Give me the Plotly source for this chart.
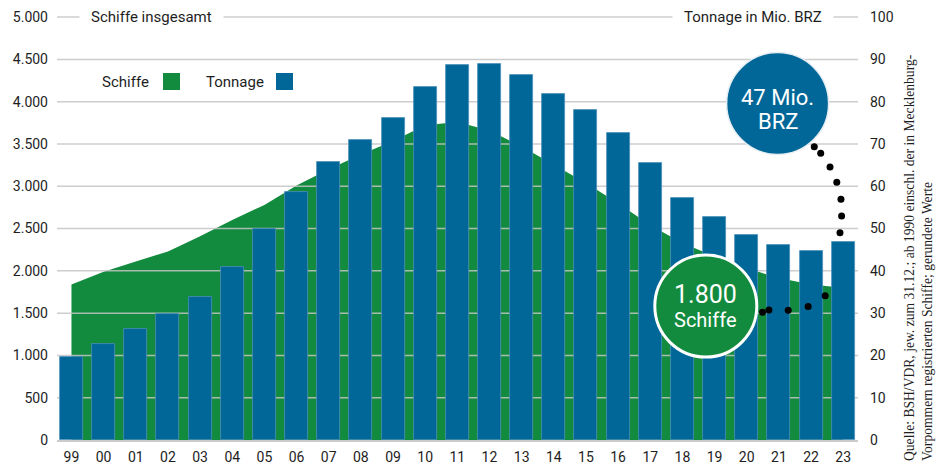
import plotly.graph_objects as go

# ---------------- data ----------------
YEARS = ["99", "00", "01", "02", "03", "04", "05", "06", "07", "08", "09", "10", "11",
         "12", "13", "14", "15", "16", "17", "18", "19", "20", "21", "22", "23"]
SHIPS = [1840, 1990, 2110, 2230, 2410, 2600, 2780, 3010, 3200, 3375, 3535, 3720, 3760,
         3660, 3470, 3250, 3040, 2800, 2540, 2330, 2170, 2030, 1915, 1840, 1800]
TONNAGE = [19.7, 22.8, 26.3, 29.7, 33.8, 40.8, 49.8, 58.6, 65.8, 70.9, 76.2, 83.5, 88.6,
           89.0, 86.2, 81.8, 78.0, 72.6, 65.4, 57.3, 52.7, 48.5, 46.0, 44.7, 46.8]
Y_TICKS = [0, 500, 1000, 1500, 2000, 2500, 3000, 3500, 4000, 4500, 5000]
Y_LABELS = ["0", "500", "1.000", "1.500", "2.000", "2.500", "3.000", "3.500", "4.000", "4.500", "5.000"]
Y2_TICKS = [0, 10, 20, 30, 40, 50, 60, 70, 80, 90, 100]
# decorative dotted connectors (x in category units, y in Mio. BRZ units)
DOTS_LOW_X = [21.49, 21.69, 22.29, 22.91, 23.44]
DOTS_LOW_Y = [30.20, 30.74, 30.67, 31.57, 34.10]
DOTS_UP_X = [23.10, 23.30, 23.59, 23.80, 23.93, 23.95, 23.90]
DOTS_UP_Y = [69.35, 67.79, 64.55, 60.94, 56.92, 52.97, 49.02]

SOURCE = ("Quelle: BSH/VDR, jew. zum 31.12.; ab 1990 einschl. der in Mecklenburg-<br>"
          "Vorpommern registrierten Schiffe; gerundete Werte")

# ---------------- style ----------------
GREEN = "#128B3E"
BLUE = "#006798"
GRID = "rgba(196,196,196,0.85)"
TXT = "#1e1e1e"
FONT = "Roboto"

W, H = 942, 465
ML, MR, MT, MB = 57, 84, 15, 25
PW, PH = W - ML - MR, H - MT - MB
X_RANGE = [-0.45, 24.46]
X = list(range(len(YEARS)))


def px(xp):
    return (xp - ML) / PW


def py(yp):
    return (H - MB - yp) / PH


fig = go.Figure()

# area of ships (main subplot, below the bars)
fig.add_trace(go.Scatter(x=X, y=SHIPS, mode="lines", fill="tozeroy", fillcolor=GREEN,
                         line=dict(color=GREEN, width=0), xaxis="x", yaxis="y",
                         hoverinfo="skip"))
# gridlines drawn over the area but under the bars
for v in Y_TICKS[1:]:
    fig.add_trace(go.Scatter(x=X_RANGE, y=[v, v], mode="lines",
                             line=dict(color=GRID, width=1.5), xaxis="x", yaxis="y",
                             hoverinfo="skip"))

# tonnage bars on overlaid right axis
fig.add_trace(go.Bar(x=X, y=TONNAGE, width=0.715, xaxis="x", yaxis="y2",
                     marker=dict(color=BLUE, line=dict(color="#4d8fba", width=0.8))))

# dotted connectors
for dx, dy in ((DOTS_LOW_X, DOTS_LOW_Y), (DOTS_UP_X, DOTS_UP_Y)):
    fig.add_trace(go.Scatter(x=dx, y=dy, mode="markers", xaxis="x", yaxis="y2",
                             marker=dict(size=7, color="black"), cliponaxis=False,
                             hoverinfo="skip"))

shapes = []
# callout circles, anchored at the last data points with pixel offsets
last_x = X[-1]
shapes.append(dict(type="circle", xref="x", yref="y2", xsizemode="pixel", ysizemode="pixel",
                   xanchor=last_x, yanchor=TONNAGE[-1],
                   x0=-65.6 - 51, x1=-65.6 + 51, y0=138.6 - 51, y1=138.6 + 51,
                   fillcolor=BLUE, line=dict(color="#e4edf2", width=1.5), layer="above"))
shapes.append(dict(type="circle", xref="x", yref="y", xsizemode="pixel", ysizemode="pixel",
                   xanchor=last_x, yanchor=SHIPS[-1],
                   x0=-137.4 - 51, x1=-137.4 + 51, y0=-18.3 - 51, y1=-18.3 + 51,
                   fillcolor=GREEN, line=dict(color="white", width=3), layer="above"))
# legend squares
shapes.append(dict(type="rect", xref="paper", yref="paper", x0=px(163), x1=px(180),
                   y0=py(90), y1=py(73), fillcolor=GREEN, line=dict(width=0)))
shapes.append(dict(type="rect", xref="paper", yref="paper", x0=px(276), x1=px(293),
                   y0=py(90), y1=py(73), fillcolor=BLUE, line=dict(width=0)))

ann = []
ann.append(dict(text="Schiffe insgesamt", xref="paper", yref="paper", x=px(151.5), y=py(17),
                xanchor="center", yanchor="middle", showarrow=False, bgcolor="white",
                borderpad=11, font=dict(size=15, color=TXT)))
ann.append(dict(text="Tonnage in Mio. BRZ", xref="paper", yref="paper", x=px(752.5), y=py(17),
                xanchor="center", yanchor="middle", showarrow=False, bgcolor="white",
                borderpad=11, font=dict(size=15, color=TXT)))
ann.append(dict(text="Schiffe", xref="paper", yref="paper", x=px(151), y=py(82),
                xanchor="right", yanchor="middle", showarrow=False,
                font=dict(size=15, color=TXT)))
ann.append(dict(text="Tonnage", xref="paper", yref="paper", x=px(266), y=py(82),
                xanchor="right", yanchor="middle", showarrow=False,
                font=dict(size=15, color=TXT)))
# circle texts
ann.append(dict(text="47 Mio.", xref="x", yref="y2", x=last_x, y=TONNAGE[-1],
                xshift=-65.6, yshift=242.1 - 97.7, xanchor="center", yanchor="middle",
                showarrow=False, font=dict(size=22, color="white")))
ann.append(dict(text="BRZ", xref="x", yref="y2", x=last_x, y=TONNAGE[-1],
                xshift=-65.6, yshift=242.1 - 121.3, xanchor="center", yanchor="middle",
                showarrow=False, font=dict(size=22, color="white")))
ann.append(dict(text=f"{SHIPS[-1]:,}".replace(",", "."), xref="x", yref="y", x=last_x,
                y=SHIPS[-1], xshift=-137.4, yshift=287.7 - 294.2, xanchor="center",
                yanchor="middle", showarrow=False, font=dict(size=25, color="white")))
ann.append(dict(text="Schiffe", xref="x", yref="y", x=last_x, y=SHIPS[-1],
                xshift=-137.4, yshift=287.7 - 319.5, xanchor="center", yanchor="middle",
                showarrow=False, font=dict(size=20, color="white")))
# source
ann.append(dict(text=SOURCE, xref="paper", yref="paper", x=px(937), y=py(463),
                xanchor="right", yanchor="bottom", align="left", textangle=-90,
                showarrow=False, font=dict(family="Liberation Serif", size=13.6, color=TXT)))

fig.update_layout(
    width=W, height=H, margin=dict(l=ML, r=MR, t=MT, b=MB, pad=0, autoexpand=False),
    plot_bgcolor="white", paper_bgcolor="white", showlegend=False,
    font=dict(family=FONT, size=14, color=TXT),
    bargap=0,
    xaxis=dict(range=X_RANGE, tickvals=X, ticktext=YEARS, showgrid=False, zeroline=False,
               showline=True, linecolor="#cccccc", linewidth=2, ticks="", automargin=False,
               ticklabelstandoff=3, tickfont=dict(size=14, color=TXT), fixedrange=True),
    yaxis=dict(range=[0, 5025], tickvals=Y_TICKS, ticktext=Y_LABELS, showgrid=False,
               zeroline=False, ticks="", ticklabelstandoff=8, automargin=False,
               tickfont=dict(size=14, color=TXT)),
    yaxis2=dict(range=[0, 100.5], overlaying="y", side="right", tickvals=Y2_TICKS,
                showgrid=False, zeroline=False, ticks="", ticklabelstandoff=11,
                automargin=False, tickfont=dict(size=14, color=TXT)),
    shapes=shapes, annotations=ann,
)

fig.write_html("out.html")
